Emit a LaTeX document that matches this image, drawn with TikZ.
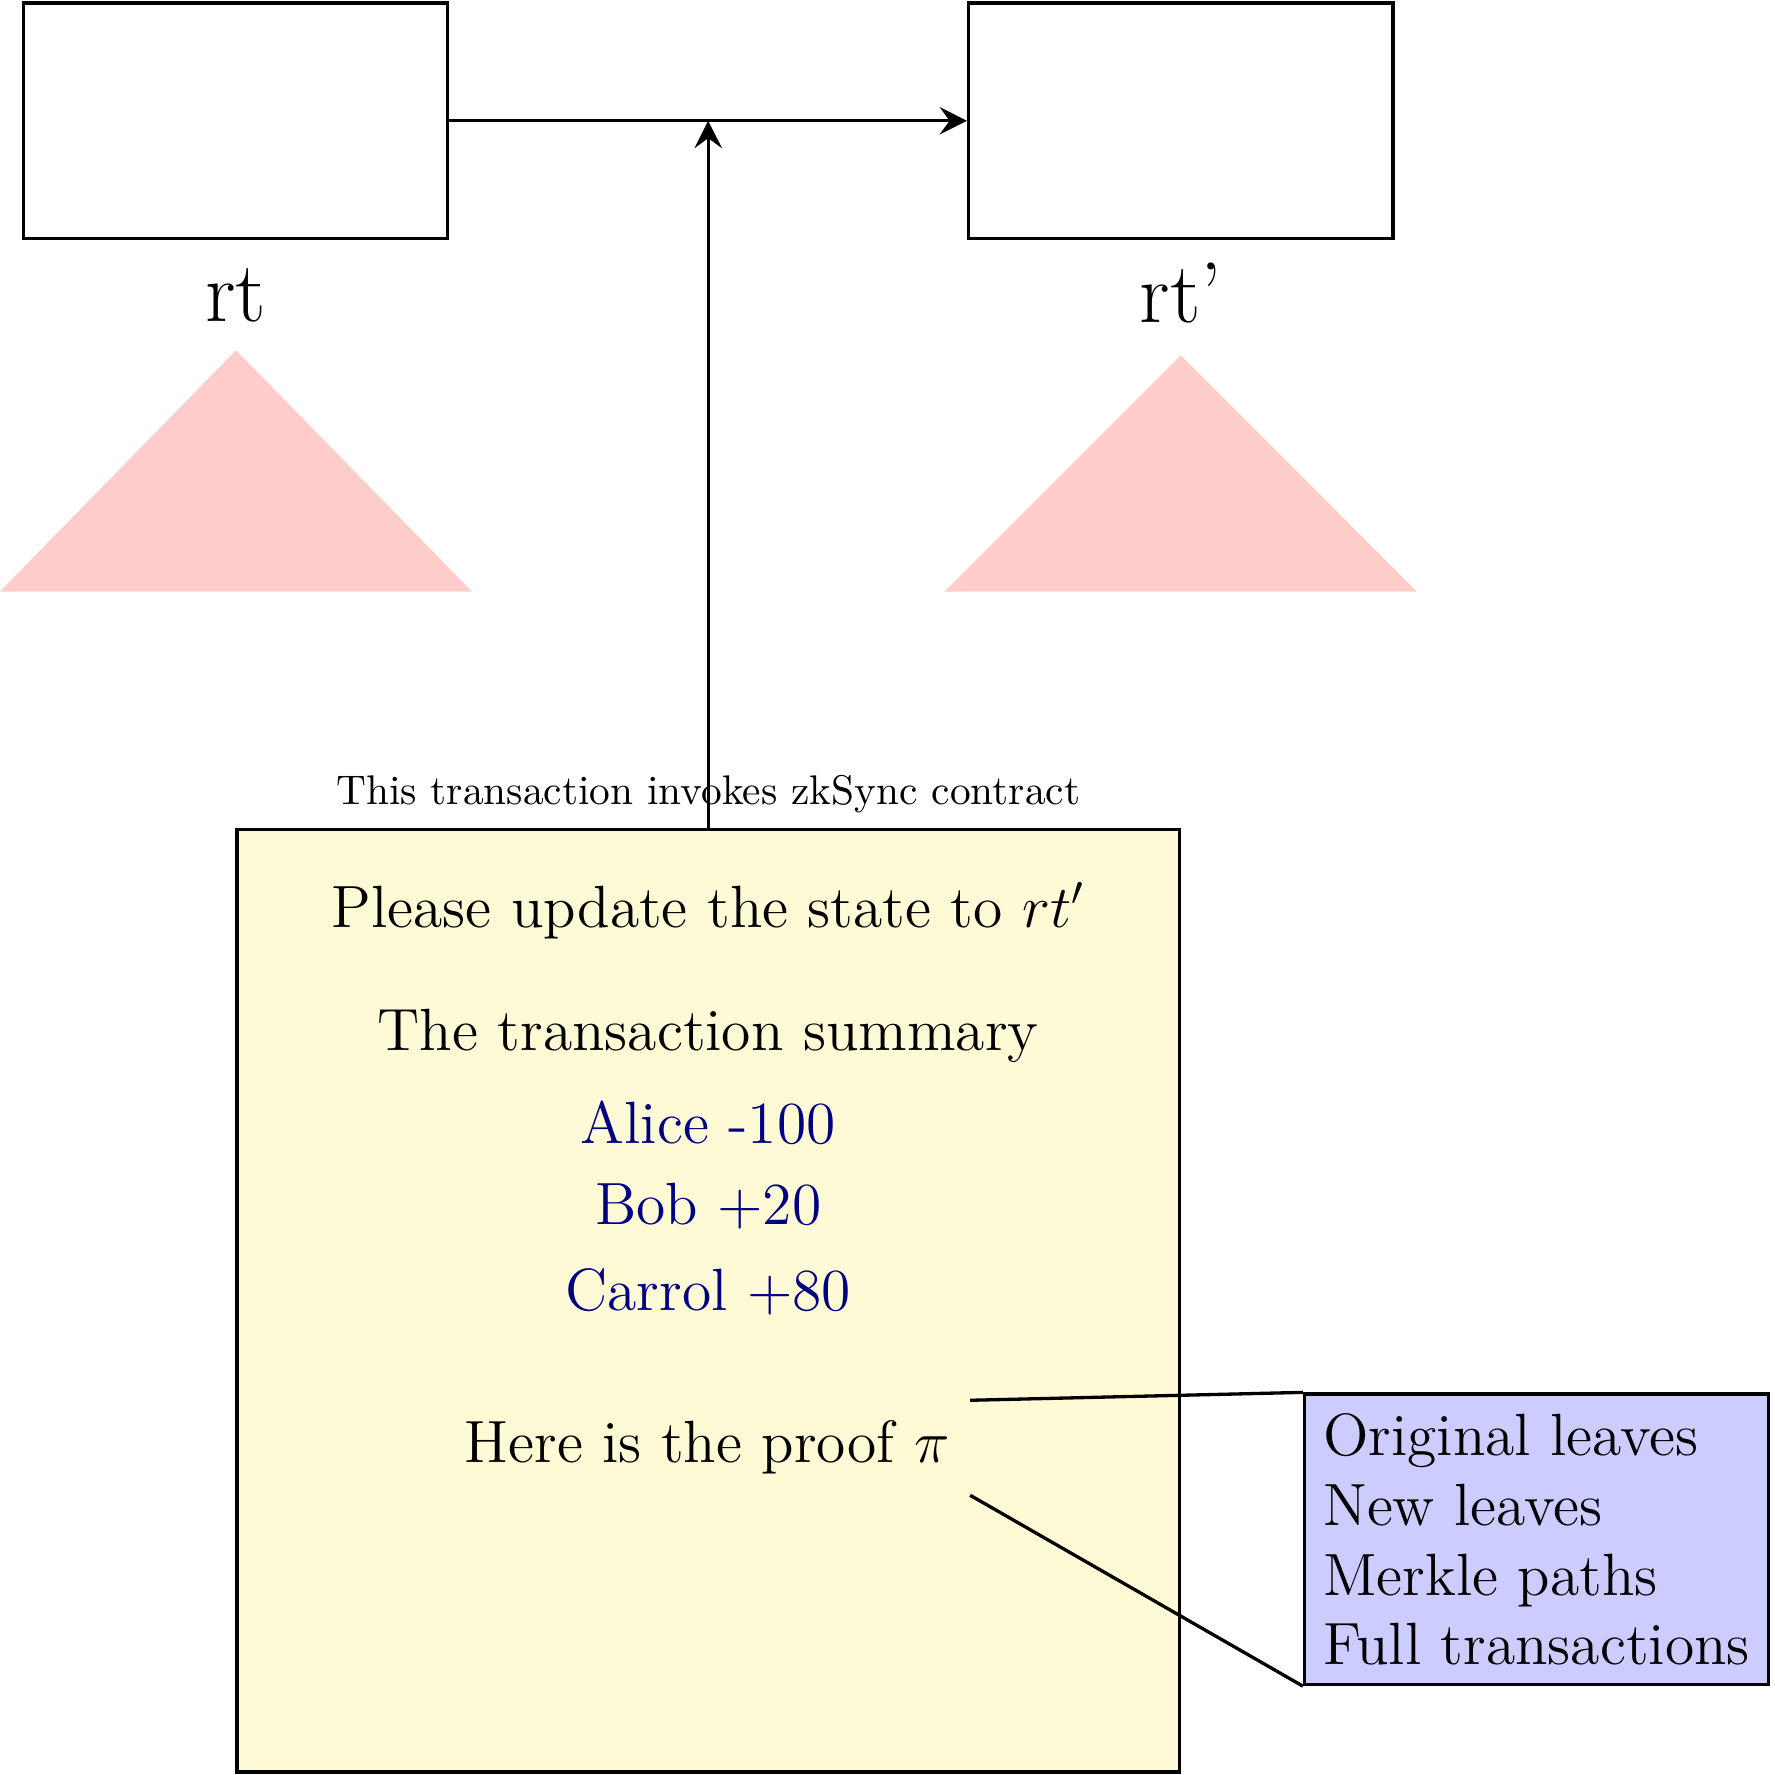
\documentclass[tikz,border=0pt]{standalone}
\usetikzlibrary{arrows.meta}
\definecolor{txyellow}{RGB}{255,250,214}
\definecolor{sumblue}{RGB}{0,0,128}

\begin{document}
\begin{tikzpicture}[
        rootbox/.style={draw, thick, minimum width=3.6cm, minimum height=2cm},
        tree/.style={fill=red!20},
        bigtext/.style={font=\Large, anchor=base},
        sumtext/.style={font=\Large, text=sumblue, anchor=base},
        flow/.style={thick, -{Stealth[length=6.6pt, width=6.6pt, inset=2.4pt]}}
    ]
        \useasboundingbox (0,0) rectangle (15.063,-15.063);

        % Radici degli alberi di stato
        \node[rootbox] (oldroot) at (2.0,-1.025) {};
        \node[rootbox] (newroot) at (10.02,-1.025) {};
        \node[font=\huge, anchor=base] (oldlabel) at (2.0,-2.728) {rt};
        \node[font=\huge, anchor=base] (newlabel) at (10.02,-2.738) {rt'};

        % Alberi
        \fill[tree] (2.003,-2.972) -- (0,-5.02) -- (4.005,-5.02) -- cycle;
        \fill[tree] (10.02,-3.015) -- (8.016,-5.02) -- (12.022,-5.02) -- cycle;

        % --- Transazione verso il contratto ---
        \node[draw, thick, fill=txyellow, minimum size=8cm] (tx) at (6.01,-11.037) {};
        \node[anchor=south] (invoke) at (tx.north) {This transaction invokes zkSync contract};
        \node[bigtext] (update) at (6.01,-7.867) {Please update the state to $rt'$};
        \node[bigtext] (summary) at (6.01,-8.915) {The transaction summary};
        \foreach \name/\entry/\y in {alice/Alice -100/9.702, bob/Bob +20/10.394, carrol/Carrol +80/11.124}
            \node[sumtext] (\name) at (6.01,-\y) {\entry};
        \node[font=\Large, inner sep=4.8pt] (pf) at (6.0,-12.286) {Here is the proof $\pi$};

        % Contenuto della prova
        \node[draw, thick, fill=blue!20, font=\fontsize{14.4pt}{16.8pt}\selectfont, inner xsep=4.5pt,
            inner ysep=4.8pt, text depth=0pt, align=left, anchor=north west] (proof) at (11.057,-11.816)
            {Original leaves\\New leaves\\Merkle paths\\Full transactions};

        % Frecce
        \coordinate (mid) at (oldroot.east -| tx.north);
        \draw[flow] (oldroot) -- (newroot);
        \draw[flow] (tx.north) -- (mid);
        \draw[thick] (pf.north east) -- (proof.north west);
        \draw[thick] (pf.south east) -- (proof.south west);
    \end{tikzpicture}
\end{document}
